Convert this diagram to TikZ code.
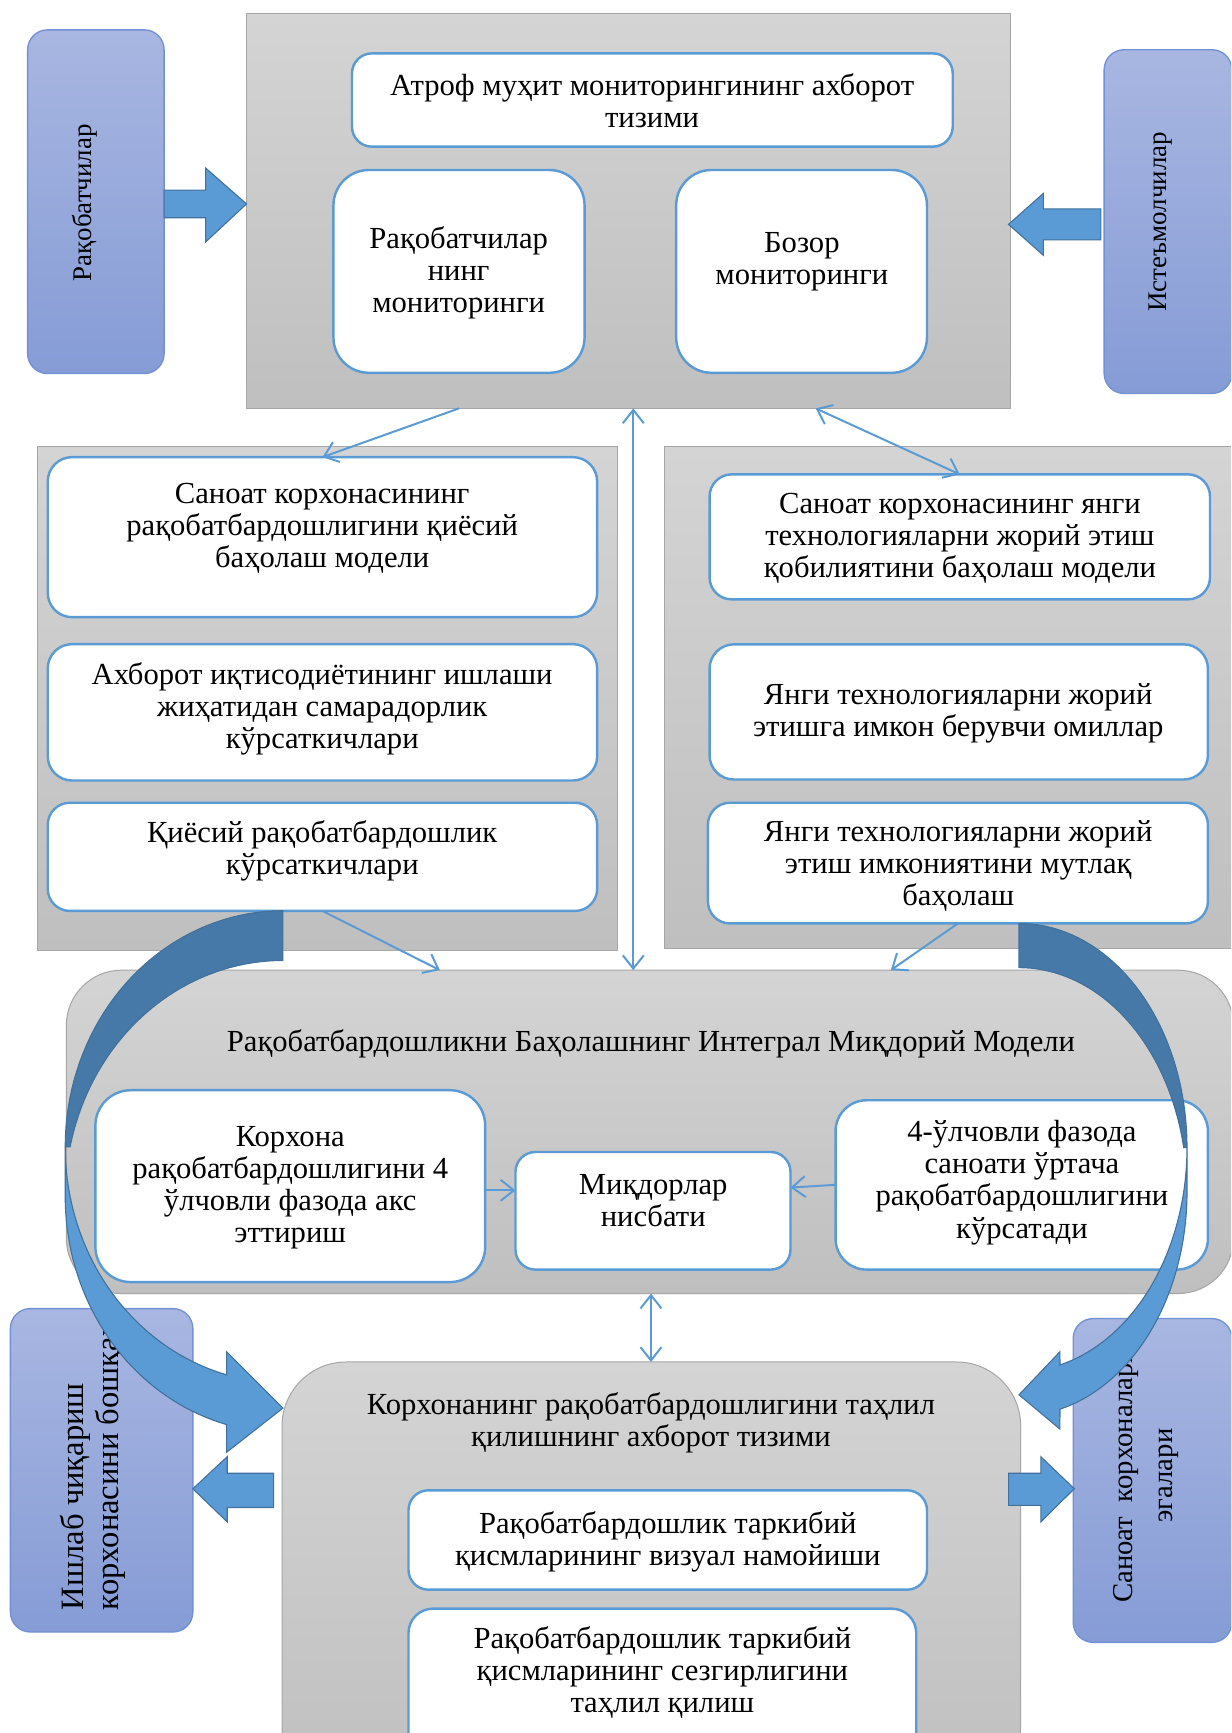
\documentclass[tikz,border=0pt]{standalone}
\usepackage{fontspec}
\setmainfont{Liberation Serif}
\usetikzlibrary{arrows.meta,calc}
\definecolor{bluebd}{RGB}{91,155,213}
\definecolor{darkbd}{RGB}{65,113,156}
\definecolor{arrowlight}{RGB}{91,155,213}
\definecolor{arrowdark}{RGB}{70,121,168}
\definecolor{stktop}{RGB}{168,182,225}
\definecolor{stkbot}{RGB}{134,156,214}
\definecolor{stkbd}{RGB}{113,145,212}
\definecolor{graytop}{RGB}{212,212,212}
\definecolor{graybot}{RGB}{191,191,191}
\definecolor{graybd}{RGB}{166,166,166}
\newcommand\fs{\fontsize{27.7}{29}\selectfont}
\newcommand\mkbox[6]{\node[#2,inner sep=0pt,outer sep=0pt,minimum width={(#5)-(#3)},minimum height={(#6)-(#4)}] (#1) at ({((#3)+(#5))/2},{((#4)+(#6))/2}) {};}
\begin{document}
\begin{tikzpicture}[x=1pt,y=-1pt,
  >={Straight Barb[length=12pt,width=19pt]},
  panel/.style={draw=graybd,line width=0.9,top color=graytop,bottom color=graybot},
  wbox/.style={draw=bluebd,line width=2.2,fill=white},
  stk/.style={draw=stkbd,line width=1.2,top color=stktop,bottom color=stkbot,rounded corners=18},
  txt/.style={align=center,font=\fs,inner sep=0pt},
  conn/.style={draw=bluebd,line width=1.8},
  barrow/.style={fill=arrowlight,draw=darkbd,line width=1,line join=miter},
  carrowl/.style={fill=arrowlight,draw=darkbd,line width=1},
  carrowd/.style={fill=arrowdark,draw=darkbd,line width=1},
]
\useasboundingbox (0,0) rectangle (1114,1568);
\fill[white] (0,0) rectangle (1114,1568);
\clip (0,0) rectangle (1114,1568);

% ---------- panels and boxes ----------
\mkbox{topPanel}{panel}{222.6}{12}{914}{369.5}
\mkbox{atrof}{wbox,rounded corners=18}{318.5}{48.3}{862}{132.7}
\mkbox{raqmon}{wbox,rounded corners=32}{301.7}{153.8}{528.9}{337.3}
\mkbox{bozor}{wbox,rounded corners=32}{611.8}{153.8}{838.7}{337.3}

\mkbox{lpanel}{panel}{33.8}{404}{559}{859.7}
\mkbox{lsan}{wbox,rounded corners=22}{43.2}{413.6}{540.3}{558.4}
\mkbox{laxb}{wbox,rounded corners=22}{43.2}{582.8}{540.3}{706.2}
\mkbox{lqiy}{wbox,rounded corners=20}{43.2}{726.3}{540.3}{824.2}

\mkbox{rpanel}{panel}{601.3}{404}{1125}{858}
\mkbox{rsan}{wbox,rounded corners=20}{642}{429.2}{1094.8}{542.3}
\mkbox{ryan}{wbox,rounded corners=22}{642}{583}{1092.9}{705.3}
\mkbox{rmut}{wbox,rounded corners=20}{640.5}{726.3}{1092.9}{835.5}

\mkbox{intbox}{panel,rounded corners=50}{60}{877.8}{1116}{1170.4}
\mkbox{korx}{wbox,rounded corners=32}{86.3}{986.4}{439}{1160}
\mkbox{miq}{wbox,rounded corners=18}{466.4}{1042.3}{715.2}{1148.7}
\mkbox{fourd}{wbox,rounded corners=28}{756}{995.5}{1092.9}{1148.7}

\mkbox{botbox}{panel,rounded corners=58}{255.2}{1232.3}{923.5}{1620}
\mkbox{vis}{wbox,rounded corners=18}{369.6}{1348.4}{838.7}{1438.3}
\mkbox{sez}{wbox,rounded corners=22}{369.6}{1455.5}{829}{1600}

% ---------- texts ----------
\node[txt] (tAtrof) at (590,91) {Атроф муҳит мониторингининг ахборот\\тизими};
\node[txt] (tRaqmon) at (415,247) {Рақобатчилар\\нинг\\мониторинги};
\node[txt] (tBozor) at (725.5,237) {Бозор\\мониторинги};
\node[txt] (tLsan) at (291.5,478) {Саноат корхонасининг\\рақобатбардошлигини қиёсий\\баҳолаш модели};
\node[txt] (tLaxb) at (291.5,641) {Ахборот иқтисодиётининг ишлаши\\жиҳатидан самарадорлик\\кўрсаткичлари};
\node[txt] (tLqiy) at (291.5,770) {Қиёсий рақобатбардошлик\\кўрсаткичлари};
\node[txt] (tRsan) at (868.5,487.4) {Саноат корхонасининг янги\\технологияларни жорий этиш\\қобилиятини баҳолаш модели};
\node[txt] (tRyan) at (867,645) {Янги технологияларни жорий\\этишга имкон берувчи омиллар};
\node[txt] (tRmut) at (867,783.3) {Янги технологияларни жорий\\этиш имкониятини мутлақ\\баҳолаш};
\node[txt] (tInt) at (589,944) {Рақобатбардошликни Баҳолашнинг Интеграл Миқдорий Модели};
\node[txt] (tKorx) at (262.6,1074.7) {Корхона\\рақобатбардошлигини 4\\ўлчовли фазода акс\\эттириш};
\node[txt] (tMiq) at (591,1086.5) {Миқдорлар\\нисбати};
\node[txt] (tFourd) at (924.6,1070) {4-ўлчовли фазода\\саноати ўртача\\рақобатбардошлигини\\кўрсатади};
\node[txt] (tBot) at (589,1287.5) {Корхонанинг рақобатбардошлигини таҳлил\\қилишнинг ахборот тизими};
\node[txt] (tVis) at (604.2,1395) {Рақобатбардошлик таркибий\\қисмларининг визуал намойиши};
\node[txt] (tSez) at (599.3,1513) {Рақобатбардошлик таркибий\\қисмларининг сезгирлигини\\таҳлил қилиш};

% ---------- stakeholder boxes ----------
\mkbox{raq}{stk}{25}{27}{148.5}{338}
\mkbox{ist}{stk}{999}{45}{1114.5}{356}
\mkbox{ish}{stk}{9.4}{1184}{174.5}{1476.6}
\mkbox{san}{stk}{971}{1193}{1114.5}{1486}
\node[txt,rotate=90,font=\fontsize{24.4}{29}\selectfont] (tRaq) at (77,183.6) {Рақобатчилар};
\node[txt,rotate=90,font=\fontsize{24.4}{29}\selectfont] (tIst) at (1050,200.8) {Истеъмолчилар};
\begin{scope}
\clip[rounded corners=18] (ish.north west) rectangle (ish.south east);
\node[txt,rotate=90,align=left,anchor=west,font=\fontsize{29.5}{32.5}\selectfont] (tIsh) at (84,1457) {Ишлаб чиқариш\\корхонасини бошқариш};
\end{scope}
\node[txt,rotate=90,font=\fontsize{26}{36}\selectfont] (tSan) at (1037,1335) {Саноат\ \ корхоналари\\эгалари};

% ---------- thin connectors ----------
\coordinate (vx) at (573,0);
\coordinate (dx) at (738,0);
\coordinate (ax) at (398,0);
\coordinate (bx) at (806,0);
\coordinate (fx) at (589,0);
\coordinate (cy) at (0,1077);
\coordinate (dy) at (0,1072);
\coordinate (ey) at (0,1074.5);
\draw[conn,->] (raqmon.south |- topPanel.south) -- (lsan.north);
\draw[conn,<->] (vx |- topPanel.south) -- (vx |- intbox.north);
\draw[conn,<->] (dx |- topPanel.south) -- (rsan.north);
\draw[conn,->] (lqiy.south) -- (ax |- intbox.north);
\draw[conn,->] (rmut.south) -- (bx |- intbox.north);
\draw[conn,->] (korx.east |- cy) -- (miq.west |- cy);
\draw[conn,->] (fourd.west |- dy) -- (miq.east |- ey);
\draw[conn,<->] (fx |- intbox.south) -- (fx |- botbox.north);

% ---------- block arrows ----------
\path[barrow] (148.5,172) -- (186,172) -- (186,152) -- (223,184.5) -- (186,219) -- (186,197) -- (148.5,197) -- cycle;
\path[barrow] (996,189) -- (944,189) -- (944,175) -- (912.5,203) -- (944,231) -- (944,217) -- (996,217) -- cycle;
\path[barrow] (247.6,1333) -- (205.6,1333) -- (205.6,1318) -- (174.5,1347) -- (205.6,1377) -- (205.6,1364) -- (247.6,1364) -- cycle;
\path[barrow] (912.6,1333) -- (941.7,1333) -- (941.7,1318) -- (972,1347) -- (941.7,1377) -- (941.7,1362) -- (912.6,1362) -- cycle;

% ---------- curved arrows ----------
% left
\path[carrowl] plot[domain=180:105,samples=40] ({256+197*cos(\x)},{1037.6+213.6*sin(\x)})
  -- (205,1223) -- (256,1274) -- (205,1314)
  -- plot[domain=105:180,samples=40] ({256+197*cos(\x)},{1082.6+213.6*sin(\x)}) -- cycle;
\path[carrowd] plot[domain=270:180,samples=40] ({256+197*cos(\x)},{1037.6+213.6*sin(\x)})
  -- plot[domain=192.16:270,samples=40] ({256+197*cos(\x)},{1082.6+213.6*sin(\x)}) -- cycle;
% right
\path[carrowl] plot[domain=0:75.9,samples=40] ({922+152*cos(\x)},{1038.3+202.8*sin(\x)})
  -- (959,1223) -- (922,1262) -- (959,1293)
  -- plot[domain=75.9:0,samples=40] ({922+152*cos(\x)},{1078.3+202.8*sin(\x)}) -- cycle;
\path[carrowd] plot[domain=-90:0,samples=40] ({922+152*cos(\x)},{1038.3+202.8*sin(\x)})
  -- plot[domain=-11.38:-90,samples=40] ({922+152*cos(\x)},{1078.3+202.8*sin(\x)}) -- cycle;
\end{tikzpicture}
\end{document}
